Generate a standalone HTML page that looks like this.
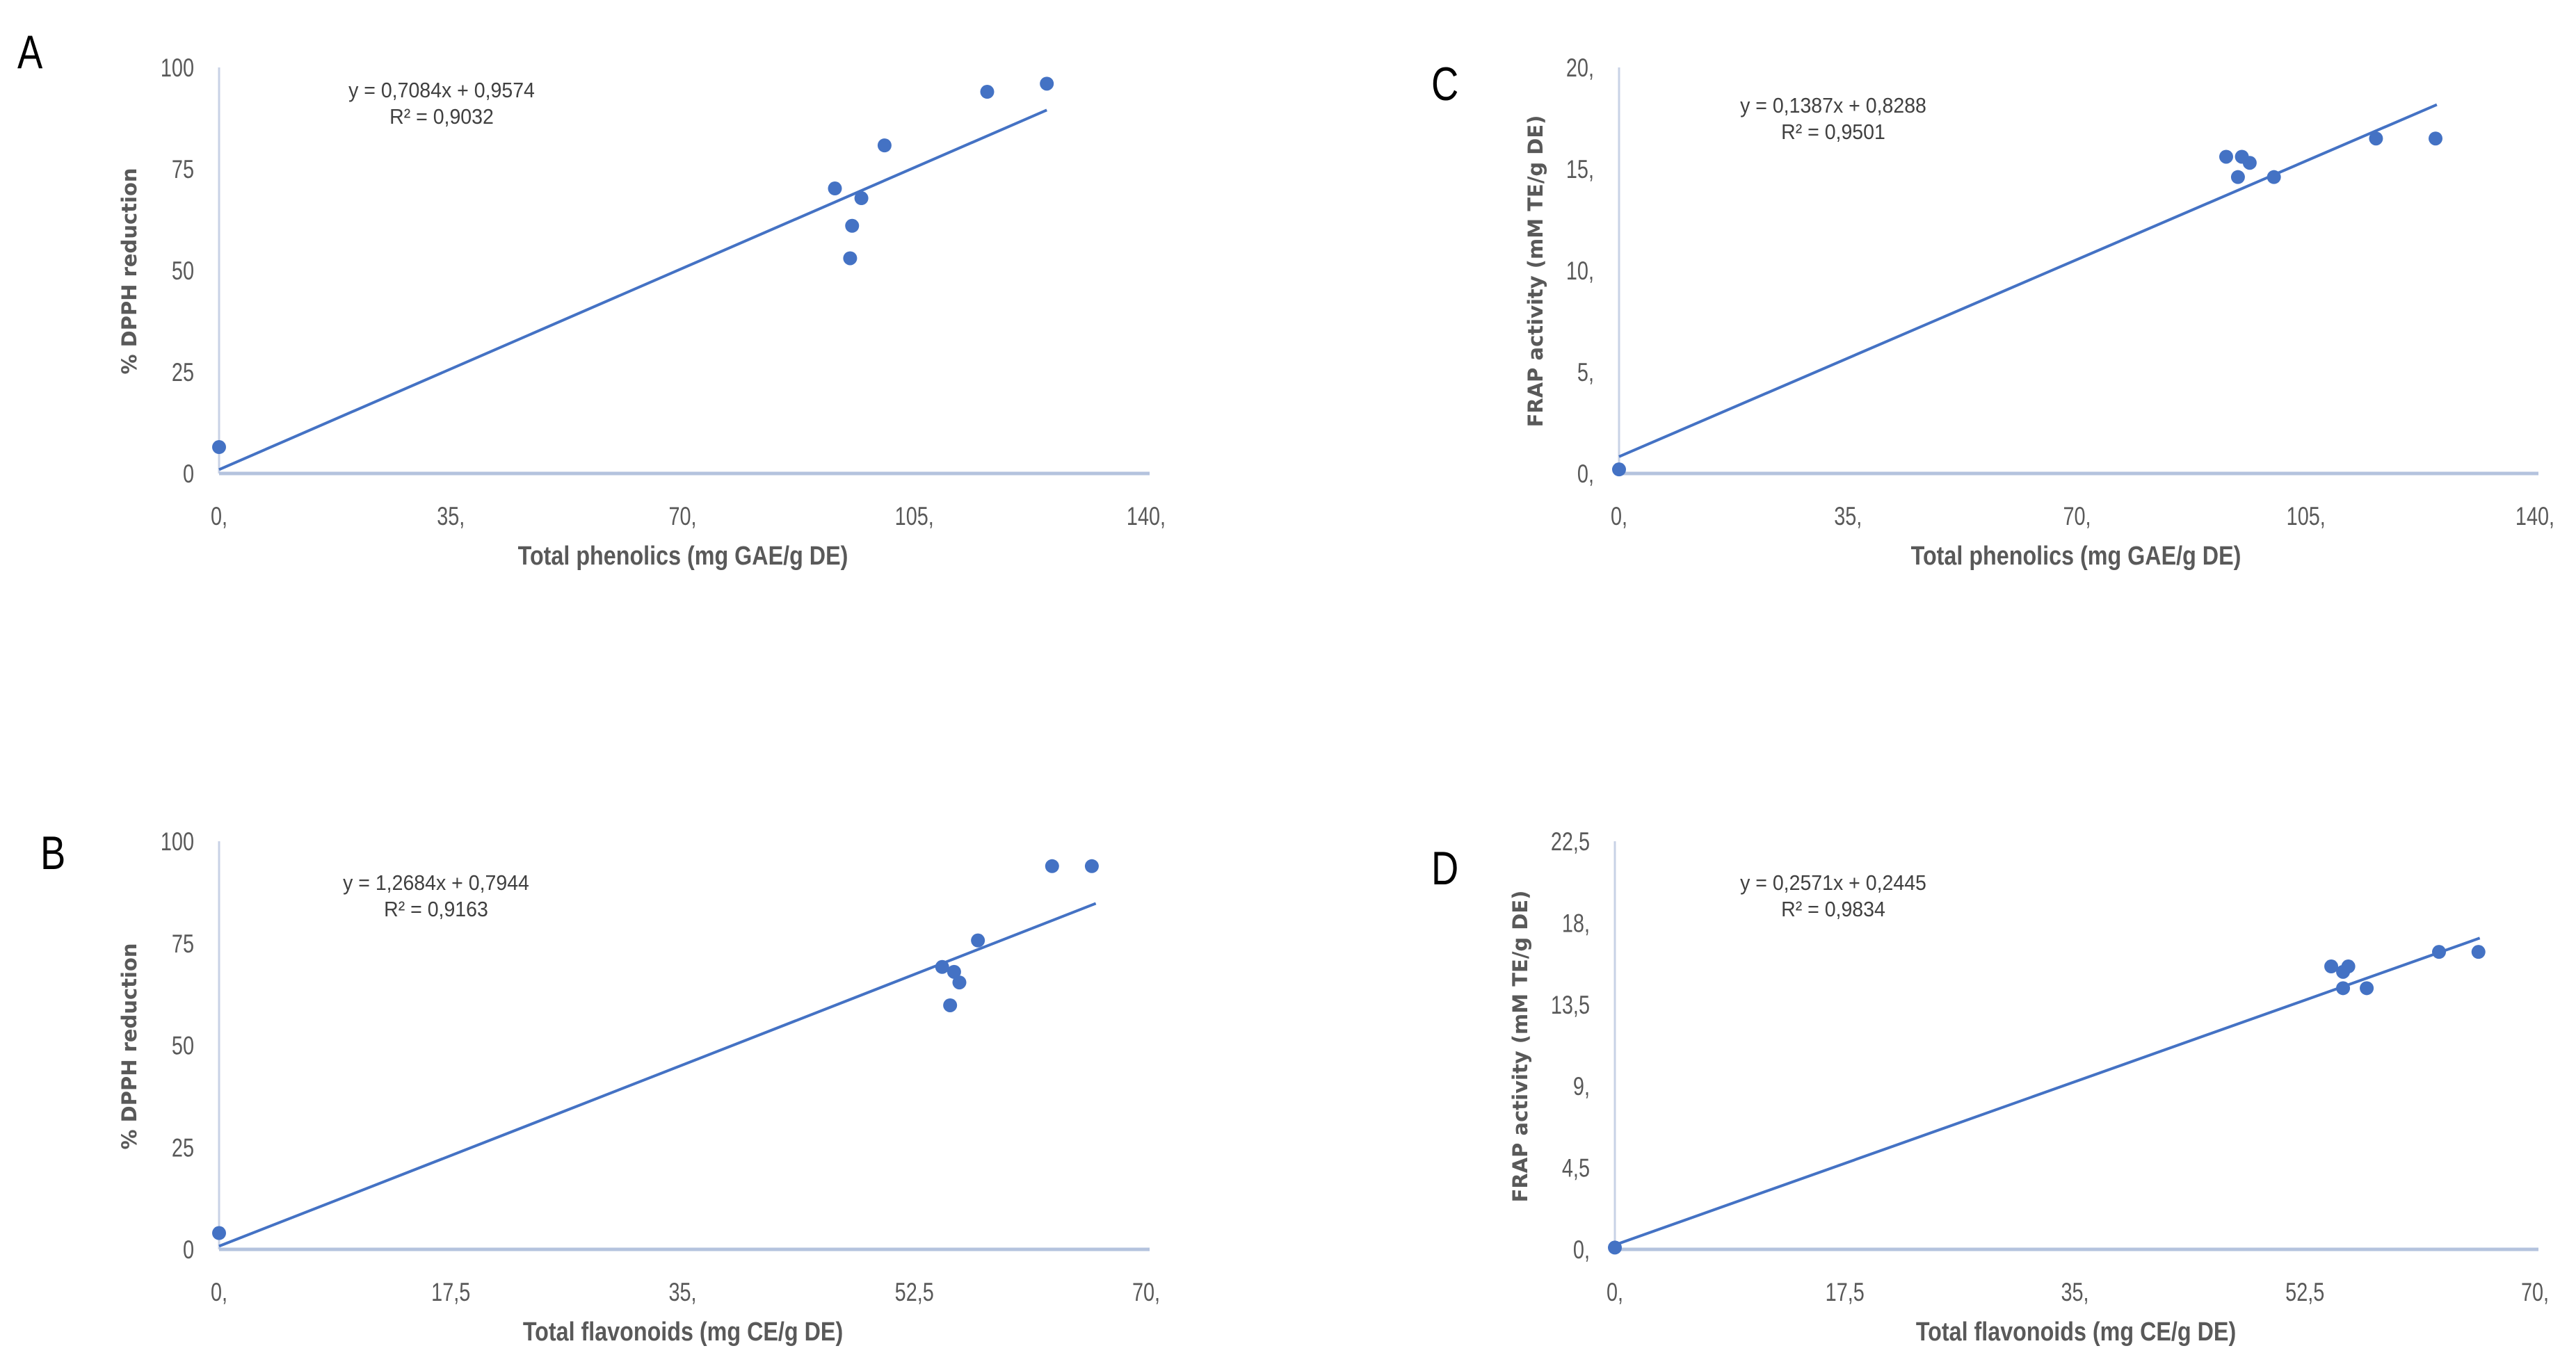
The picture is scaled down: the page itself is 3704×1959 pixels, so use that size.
<!DOCTYPE html>
<html><head><meta charset="utf-8"><style>
html,body{margin:0;padding:0;background:#fff;}
svg{display:block;}
.tick{font-family:"Liberation Sans",sans-serif;font-size:37px;fill:#595959;}
.atitle{font-family:"Liberation Sans",sans-serif;font-size:38px;font-weight:bold;fill:#595959;}
.ytitle{font-family:"DejaVu Sans",sans-serif;font-size:29px;font-weight:bold;fill:#595959;}
.eq{font-family:"Liberation Sans",sans-serif;font-size:31px;fill:#404040;}
.plabel{font-family:"Liberation Sans",sans-serif;font-size:68px;fill:#000;}
</style></head><body>
<svg id="fig" width="3704" height="1959" viewBox="0 0 3704 1959" xmlns="http://www.w3.org/2000/svg"></svg>
<script>
// Panel A: Total phenolics vs % DPPH
const aX = [0, 93, 95.3, 95.6, 97, 100.5, 116, 125];
const aY = [6.5, 70.2, 53, 61, 67.8, 80.8, 94, 96];
const aXTicks = ["0,", "35,", "70,", "105,", "140,"];
const aYTicks = ["0", "25", "50", "75", "100"];
const aFit = [0.7084, 0.9574];
// Panel B: Total flavonoids vs % DPPH
const bX = [0, 54.6, 55.5, 55.9, 55.2, 57.3, 62.9, 65.9];
const bY = [4.0, 69.2, 68, 65.4, 59.8, 75.7, 93.9, 93.9];
const bXTicks = ["0,", "17,5", "35,", "52,5", "70,"];
const bYTicks = ["0", "25", "50", "75", "100"];
const bFit = [1.2684, 0.7944];
// Panel C: Total phenolics vs FRAP
const cX = [0, 92.8, 95.2, 96.4, 94.6, 100.1, 115.7, 124.8];
const cY = [0.2, 15.6, 15.6, 15.3, 14.6, 14.6, 16.5, 16.5];
const cXTicks = ["0,", "35,", "70,", "105,", "140,"];
const cYTicks = ["0,", "5,", "10,", "15,", "20,"];
const cFit = [0.1387, 0.8288];
// Panel D: Total flavonoids vs FRAP
const dX = [0, 54.5, 55.4, 55.8, 55.4, 57.2, 62.7, 65.7];
const dY = [0.1, 15.6, 15.3, 15.6, 14.4, 14.4, 16.4, 16.4];
const dXTicks = ["0,", "17,5", "35,", "52,5", "70,"];
const dYTicks = ["0,", "4,5", "9,", "13,5", "18,", "22,5"];
const dFit = [0.2571, 0.2445];

const NS = "http://www.w3.org/2000/svg";
const svg = document.getElementById("fig");
function mk(tag, attrs, parent, txt){
  const e = document.createElementNS(NS, tag);
  for (const k in attrs) e.setAttribute(k, attrs[k]);
  if (txt !== undefined) e.textContent = txt;
  parent.appendChild(e);
  return e;
}
function ctext(parent, x, y, anchor, cls, txt, sc){
  return mk("text", {x:0, y:0, "text-anchor":anchor, class:cls, transform:"translate(" + x + "," + y + ") scale(" + sc + ",1)"}, parent, txt);
}
function panel(id, cfg, xs, ys, xt, yt, fit){
  const g = mk("g", {}, svg);
  
  
  const xMax = cfg.xMax, yMax = cfg.yMax;
  const sx = v => cfg.x0 + (cfg.x1 - cfg.x0) * v / xMax;
  const sy = v => cfg.y0 - (cfg.y0 - cfg.y1) * v / yMax;
  const ya = mk("line", {x1:cfg.x0, y1:cfg.y0, x2:cfg.x0, y2:cfg.y1, stroke:"#c8d2e6", "stroke-width":3}, g);
  
  
  const xa = mk("line", {x1:cfg.x0, y1:cfg.y0, x2:cfg.x1+5, y2:cfg.y0, stroke:"#b4c3de", "stroke-width":5}, g);
  
  
  xt.forEach((t, i) => {
    const v = xMax * i / (xt.length - 1);
    const e = ctext(g, sx(v), cfg.y0 + 74, "middle", "tick", t, 0.78);
    
    
  });
  yt.forEach((t, i) => {
    const v = yMax * i / (yt.length - 1);
    const e = ctext(g, cfg.x0 - 36, sy(v) + 13, "end", "tick", t, 0.78);
    
    
  });
  const xe = cfg.xEnd;
  const tl = mk("line", {x1:sx(0), y1:sy(fit[1]), x2:sx(xe), y2:sy(fit[0]*xe + fit[1]), stroke:"#4472c4", "stroke-width":4}, g);
  
  
  xs.forEach((xv, i) => {
    const c = mk("circle", {cx:sx(xv), cy:sy(ys[i]), r:10, fill:"#4472c4"}, g);
    
    
  });
  const xtl = ctext(g, cfg.xtx, cfg.y0 + 131, "middle", "atitle", cfg.xTitle, 0.85);
  
  
  const ytl = mk("text", {x:0, y:0, "text-anchor":"middle", class:"ytitle", transform:"translate(" + cfg.ytx + "," + cfg.yty + ") rotate(-90)"}, g, cfg.yTitle);
  
  
  const e1 = ctext(g, cfg.eqx, cfg.eqy, "middle", "eq", cfg.eq1, 0.92);
  
  
  const e2 = ctext(g, cfg.eqx, cfg.eqy + 38, "middle", "eq", cfg.eq2, 0.92);
  
  
  const pl = ctext(g, cfg.lx, cfg.ly, "start", "plabel", id, 0.8);
  
  
}
panel("A", {x0:315, x1:1648, y0:681, y1:97, xMax:140, yMax:100, xEnd:125, xtx:982, xTitle:"Total phenolics (mg GAE/g DE)", ytx:196, yty:390, yTitle:"% DPPH reduction", eqx:635, eqy:140, eq1:"y = 0,7084x + 0,9574", eq2:"R² = 0,9032", lx:25, ly:98}, aX, aY, aXTicks, aYTicks, aFit);
panel("B", {x0:315, x1:1648, y0:1797, y1:1210, xMax:70, yMax:100, xEnd:66.2, xtx:982, xTitle:"Total flavonoids (mg CE/g DE)", ytx:196, yty:1505, yTitle:"% DPPH reduction", eqx:627, eqy:1280, eq1:"y = 1,2684x + 0,7944", eq2:"R² = 0,9163", lx:58, ly:1250}, bX, bY, bXTicks, bYTicks, bFit);
panel("C", {x0:2328, x1:3645, y0:681, y1:97, xMax:140, yMax:20, xEnd:125, xtx:2985, xTitle:"Total phenolics (mg GAE/g DE)", ytx:2218, yty:390, yTitle:"FRAP activity (mM TE/g DE)", eqx:2636, eqy:162, eq1:"y = 0,1387x + 0,8288", eq2:"R² = 0,9501", lx:2058, ly:144}, cX, cY, cXTicks, cYTicks, cFit);
panel("D", {x0:2322, x1:3645, y0:1797, y1:1210, xMax:70, yMax:22.5, xEnd:65.8, xtx:2985, xTitle:"Total flavonoids (mg CE/g DE)", ytx:2196, yty:1505, yTitle:"FRAP activity (mM TE/g DE)", eqx:2636, eqy:1280, eq1:"y = 0,2571x + 0,2445", eq2:"R² = 0,9834", lx:2058, ly:1272}, dX, dY, dXTicks, dYTicks, dFit);
</script>
</body></html>
